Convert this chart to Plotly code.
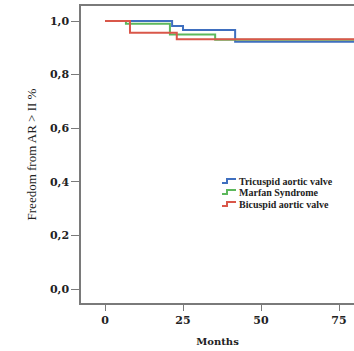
import plotly.graph_objects as go

# Kaplan-Meier step data (months, freedom from AR > II)
tric_t = [0, 21.5, 25, 41.7, 80]
tric_s = [1.0, 0.981, 0.966, 0.923, 0.923]
marf_t = [0, 6.7, 20.8, 35.3, 80]
marf_s = [1.0, 0.99, 0.95, 0.93, 0.93]
bicu_t = [0, 8, 23, 80]
bicu_s = [1.0, 0.956, 0.932, 0.932]

series_names = ["Tricuspid aortic valve", "Marfan Syndrome", "Bicuspid aortic valve"]
series_colors = ["#3f6fbf", "#5cb85c", "#d9574a"]

y_ticks = [0.0, 0.2, 0.4, 0.6, 0.8, 1.0]
y_ticktext = ["0,0", "0,2", "0,4", "0,6", "0,8", "1,0"]
x_ticks = [0, 25, 50, 75]
x_ticktext = ["0", "25", "50", "75"]

serif = "Liberation Serif"
wide_serif = "DejaVu Serif"

W, H = 354, 351
ML, MR, MT, MB = 81, 0, 6, 48
PW, PH = W - ML - MR, H - MT - MB


def px_x(p):
    return (p - ML) / PW


def px_y(p):
    return (H - MB - p) / PH


fig = go.Figure()
for t, s, name, col in zip([tric_t, marf_t, bicu_t], [tric_s, marf_s, bicu_s],
                           series_names, series_colors):
    fig.add_trace(go.Scatter(x=t, y=s, mode="lines", line=dict(color=col, width=2, shape="hv"),
                             name=name, showlegend=False))

# manual compact legend (step icons + labels)
legend_rows = [181, 192, 204]
for row, name, col in zip(legend_rows, series_names, series_colors):
    x0, x1, x2 = px_x(222), px_x(227), px_x(236)
    yl, yh = px_y(row + 2), px_y(row - 2)
    fig.add_shape(type="path", xref="paper", yref="paper",
                  path=f"M {x0} {yl} L {x1} {yl} L {x1} {yh} L {x2} {yh}",
                  line=dict(color=col, width=2))
    fig.add_annotation(x=px_x(237), y=px_y(row), xref="paper", yref="paper",
                       xanchor="left", yanchor="middle", showarrow=False,
                       text=f"<b>{name}</b>",
                       font=dict(family=serif, size=10, color="#222"))

fig.update_layout(
    width=W, height=H,
    margin=dict(l=ML, r=MR, t=MT, b=MB),
    plot_bgcolor="white", paper_bgcolor="white",
    showlegend=False,
)
fig.update_xaxes(range=[-7.7, 79.8], tickvals=x_ticks, ticktext=x_ticktext,
                 showgrid=False, zeroline=False, showline=True, linecolor="#7a7a7a",
                 linewidth=1.5, mirror=True, ticks="outside", ticklen=6, tickcolor="#7a7a7a",
                 tickfont=dict(family=wide_serif, size=11, color="#222", weight="bold"),
                 title=dict(text="Months", font=dict(family=wide_serif, size=10, color="#222", weight="bold"),
                            standoff=12))
fig.update_yaxes(range=[-0.052, 1.056], tickvals=y_ticks, ticktext=y_ticktext,
                 showgrid=False, zeroline=False, showline=True, linecolor="#7a7a7a",
                 linewidth=1.5, ticks="outside", ticklen=8, tickcolor="#7a7a7a",
                 tickfont=dict(family=wide_serif, size=11, color="#222", weight="bold"),
                 title=dict(text="Freedom from AR > II %", font=dict(family=serif, size=13, color="#222"),
                            standoff=10))

fig.write_html("out.html")
